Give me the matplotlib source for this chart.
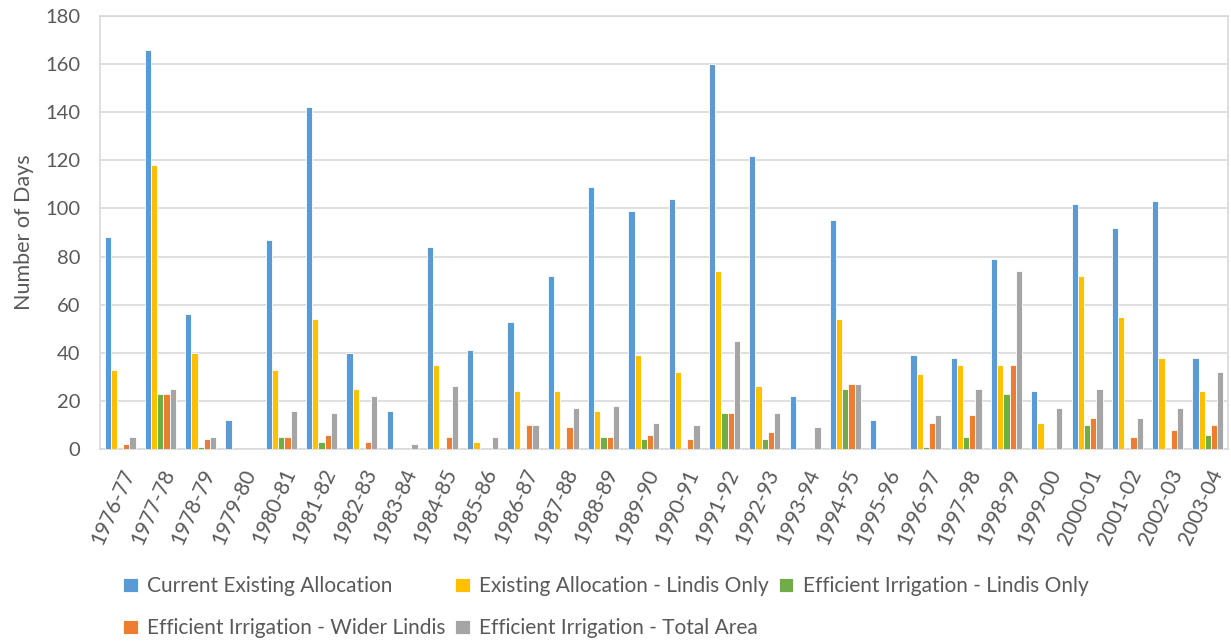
import numpy as np
import matplotlib
matplotlib.use("Agg")
import matplotlib.pyplot as plt

plt.rcParams['font.family'] = ['Lato', 'DejaVu Sans']

seasons = ["1976-77", "1977-78", "1978-79", "1979-80", "1980-81", "1981-82", "1982-83",
           "1983-84", "1984-85", "1985-86", "1986-87", "1987-88", "1988-89", "1989-90",
           "1990-91", "1991-92", "1992-93", "1993-94", "1994-95", "1995-96", "1996-97",
           "1997-98", "1998-99", "1999-00", "2000-01", "2001-02", "2002-03", "2003-04"]

current = [88, 166, 56, 12, 87, 142, 40, 16, 84, 41, 53, 72, 109, 99,
           104, 160, 122, 22, 95, 12, 39, 38, 79, 24, 102, 92, 103, 38]
existing_lindis = [33, 118, 40, 0, 33, 54, 25, 0, 35, 3, 24, 24, 16, 39,
                   32, 74, 26, 0, 54, 0, 31, 35, 35, 11, 72, 55, 38, 24]
eff_lindis = [0, 23, 1, 0, 5, 3, 0, 0, 0, 0, 0, 0, 5, 4,
              0, 15, 4, 0, 25, 0, 1, 5, 23, 0, 10, 0, 0, 6]
eff_wider = [2, 23, 4, 0, 5, 6, 3, 0, 5, 0, 10, 9, 5, 6,
             4, 15, 7, 0, 27, 0, 11, 14, 35, 0, 13, 5, 8, 10]
eff_total = [5, 25, 5, 0, 16, 15, 22, 2, 26, 5, 10, 17, 18, 11,
             10, 45, 15, 9, 27, 0, 14, 25, 74, 17, 25, 13, 17, 32]

series = [
    ("Current Existing Allocation", current, "#5B9BD5"),
    ("Existing Allocation - Lindis Only", existing_lindis, "#FFC000"),
    ("Efficient Irrigation - Lindis Only", eff_lindis, "#70AD47"),
    ("Efficient Irrigation - Wider Lindis", eff_wider, "#ED7D31"),
    ("Efficient Irrigation - Total Area", eff_total, "#A5A5A5"),
]

fig = plt.figure(figsize=(12.31, 6.41), dpi=100)
ax = fig.add_axes([0.0812, 0.2995, 0.9164, 0.6755])

x = np.arange(len(seasons))
w = 0.154
handles = {}
for i, (name, vals, col) in enumerate(series):
    b = ax.bar(x + (i - 2) * w, vals, width=w, color=col, edgecolor="white",
               linewidth=0.6, label=name, zorder=3)
    handles[name] = b

ax.set_xlim(-0.5, len(seasons) - 0.5)
ax.set_ylim(0, 180)
ax.set_yticks(range(0, 181, 20))
ax.grid(axis="y", color="#D9D9D9", linewidth=1.2, zorder=0)
for s in ax.spines.values():
    s.set_color("#D9D9D9")
    s.set_linewidth(1.2)
ax.tick_params(axis="both", length=0, colors="#595959")
ax.tick_params(axis="y", labelsize=14.5, pad=14)
ax.set_xticks(x)
ax.set_xticklabels(seasons, rotation=66, ha="right", rotation_mode="anchor",
                   fontsize=15, color="#595959")
ax.tick_params(axis="x", pad=12)
ax.set_ylabel("Number of Days", fontsize=15.5, color="#595959", labelpad=8)

names = [s[0] for s in series]
order = [0, 3, 1, 4, 2]
fig.legend([handles[names[k]] for k in order], [names[k] for k in order],
           loc="lower left", bbox_to_anchor=(0.085, -0.025), ncol=3, frameon=False,
           fontsize=15, labelcolor="#595959", handlelength=0.7, handleheight=0.7,
           handletextpad=0.45, columnspacing=0.46, labelspacing=1.05)

fig.savefig("out.png", dpi=100, facecolor="white")
